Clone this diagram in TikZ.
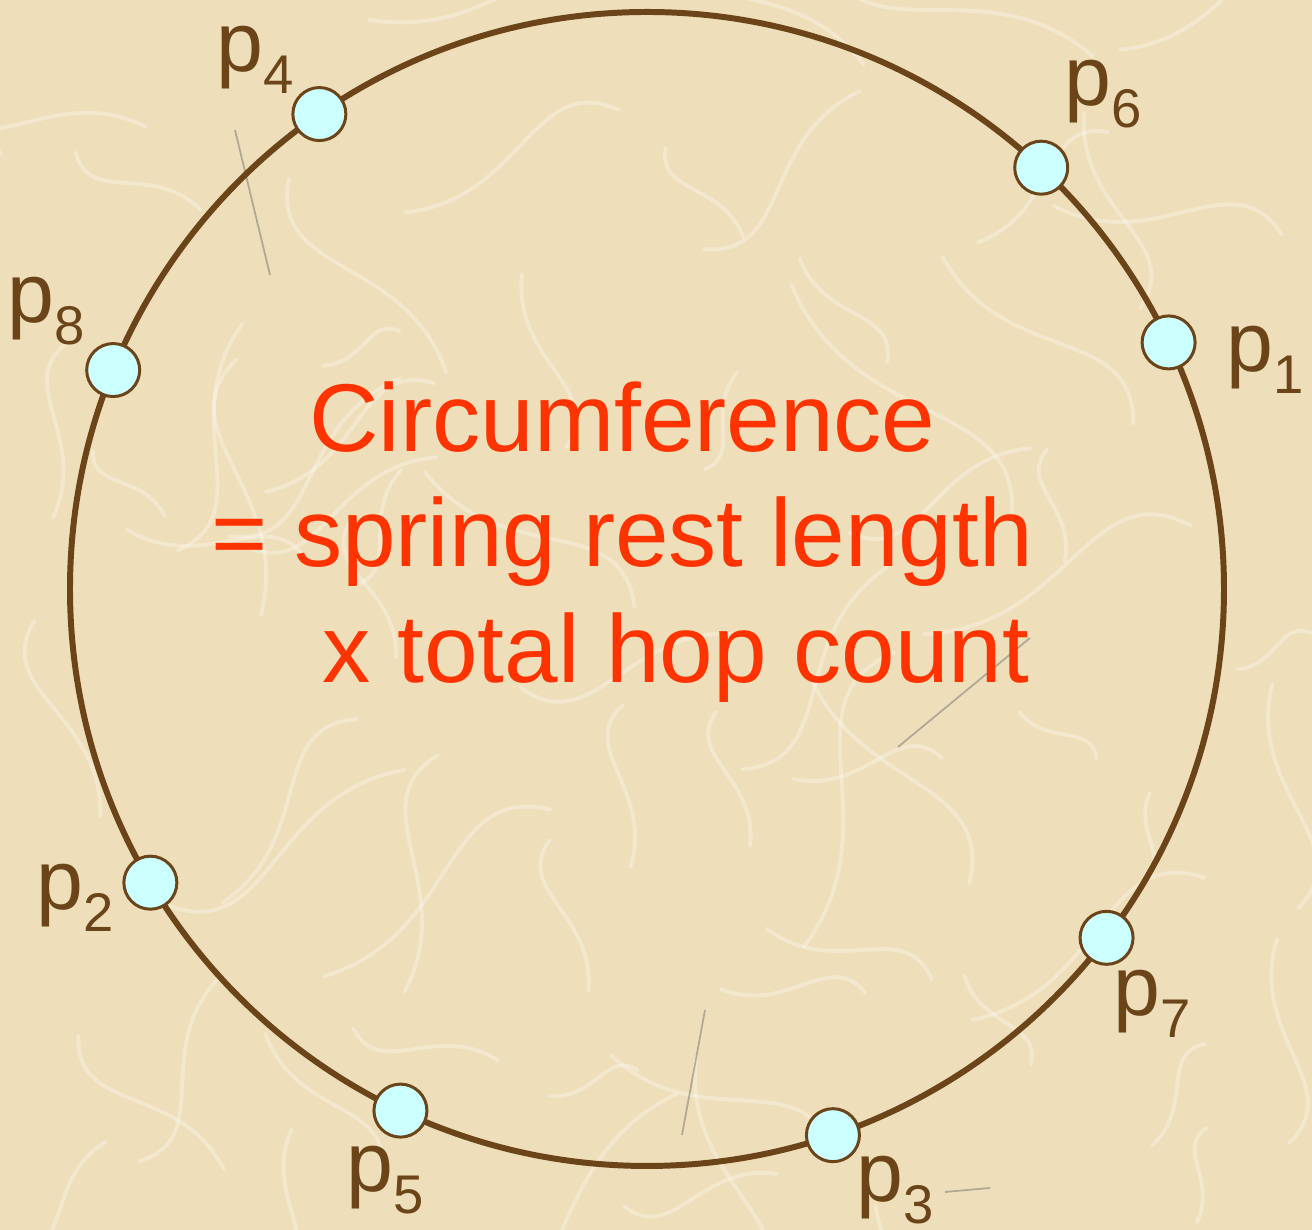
\documentclass[tikz,border=0pt]{standalone}
\usepackage{fontspec}
\setmainfont{Liberation Sans}
\definecolor{paper}{RGB}{238,222,186}
\definecolor{ringbrown}{RGB}{107,69,25}
\definecolor{peercyan}{RGB}{204,255,255}
\definecolor{notered}{RGB}{255,51,0}
\tikzset{
  peer/.style={circle, draw=ringbrown, fill=peercyan, line width=0.85pt, minimum size=0.53cm, inner sep=0pt},
  peerlabel/.style={anchor=base west, inner sep=0pt, text=ringbrown, font=\fontsize{24}{28}\selectfont},
  note/.style={anchor=base, inner sep=0pt, text=notered, font=\fontsize{27.4}{32}\selectfont},
  fibre/.style={white, opacity=0.3, line width=1.1pt, line cap=round},
  streak/.style={black!60, opacity=0.45, line width=0.5pt}
}
\newcommand{\peername}[1]{p\raisebox{-6pt}{\fontsize{15.5}{16}\selectfont #1}}
\begin{document}
\begin{tikzpicture}
    % Papier als Hintergrund
    \useasboundingbox (0,0) rectangle (13.12,12.30);
    \fill[paper] (0,0) rectangle (13.12,12.30);
    \begin{scope}
        \clip (0,0) rectangle (13.12,12.30);
        \pgfmathsetseed{11}
        \foreach \i in {1,...,70}{
            \pgfmathsetmacro\fx{rnd*13.12}
            \pgfmathsetmacro\fy{rnd*12.30}
            \pgfmathsetmacro\fa{rnd*360}
            \pgfmathsetmacro\fl{0.8+rnd*2.5}
            \pgfmathsetmacro\ex{\fx+\fl*cos(\fa+20)}
            \pgfmathsetmacro\ey{\fy+\fl*sin(\fa+20)}
            \draw[fibre] (\fx,\fy) .. controls +(\fa:0.5*\fl) and +(\fa-30:-0.4*\fl) .. (\ex,\ey);
        }
        \draw[streak] (2.35,11.00) -- (2.70,9.55);
        \draw[streak] (8.98,4.83) -- (10.30,5.92);
        \draw[streak] (7.05,2.20) -- (6.82,0.95);
        \draw[streak] (9.45,0.38) -- (9.90,0.42);
    \end{scope}

    % Ring
    \coordinate (ctr) at (6.47,6.41);
    \draw[ringbrown, line width=1.7pt] (ctr) circle (5.77);

    % Knoten auf dem Ring
    \foreach \k/\ang in {1/25.3, 6/46.9, 4/124.6, 8/157.7, 2/210.6, 5/244.7, 3/288.8, 7/322.8}
        \node[peer] (p\k) at ([shift={(\ang:5.77)}]ctr) {};

    % Beschriftungen der Knoten
    \foreach \k/\lx/\ly in {4/2.16/11.58, 6/10.64/11.24, 1/12.26/8.58, 8/0.07/9.07,
                            2/0.36/3.20, 7/11.13/2.14, 5/3.46/0.38, 3/8.56/0.28}
        \node[peerlabel] (l\k) at (\lx,\ly) {\peername{\k}};

    % Text in der Mitte
    \node[note] (line1) at (6.225,7.78) {Circumference};
    \node[note] (line2) at (6.22,6.63) {= spring rest length};
    \node[note] (line3) at (6.76,5.47) {x total hop count};
\end{tikzpicture}
\end{document}
